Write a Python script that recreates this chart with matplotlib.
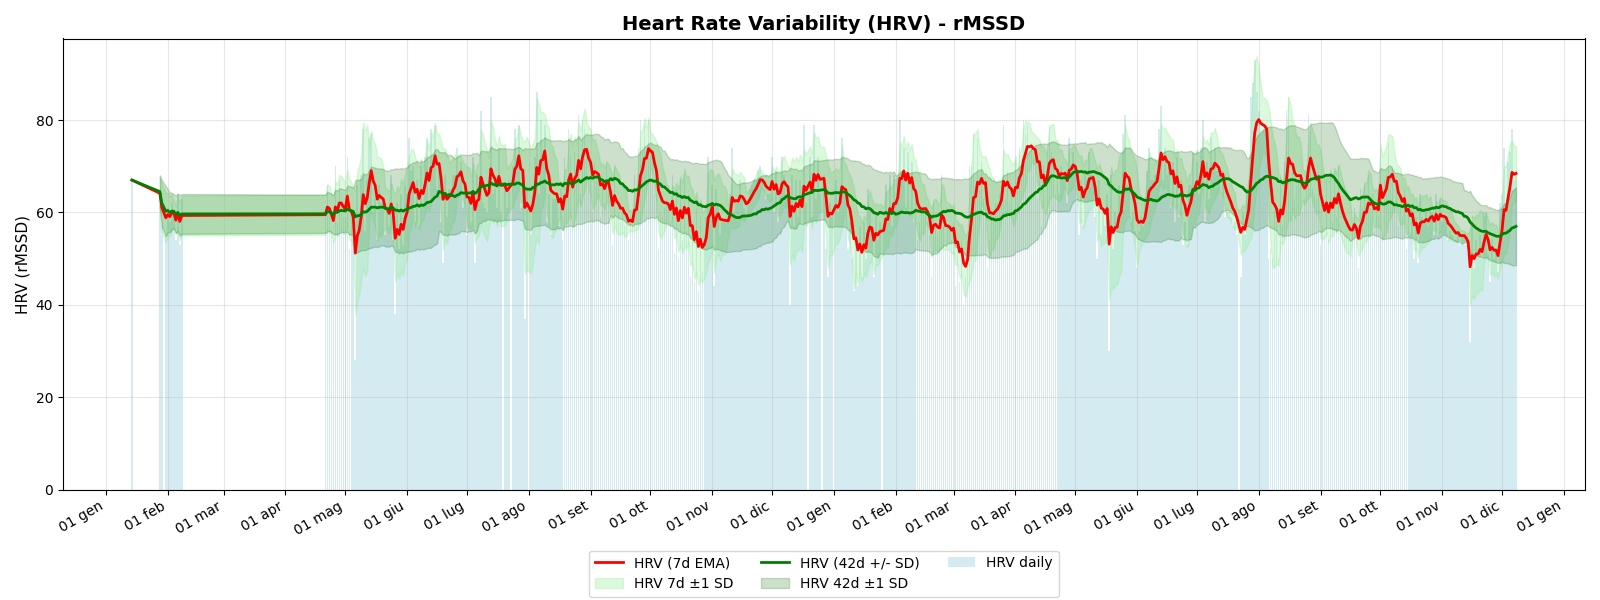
import pandas as pd
import matplotlib
matplotlib.use("Agg")
import matplotlib.pyplot as plt
import matplotlib.dates as mdates
from matplotlib.ticker import FuncFormatter

# Daily HRV (rMSSD) readings, one list per month (index 0 = day 1); None = no reading
hrv_2023_01 = [None] * 13 + [67] + [None] * 13 + [62, 57, None, 55]
hrv_2023_02 = [61, 58, 62, 60, 54, 64, 53, 63]
hrv_2023_04 = [None] * 20 + [60, 66, 60, 56, 54, 70, 58, 67, 62, 59]
hrv_2023_05 = [59, 72, 52, 59, 55, 28, 66, 60, 68, 78, 56, 67, 76, 77, 60, 63, 54, 66, 62, 62,
               55, 60, 57, 68, 54, 38, 62, 52, 64, 53, 66]
hrv_2023_06 = [64, 76, 69, 70, 58, 67, 57, 70, 62, 72, 76, 62, 78, 71, 79, 65, 71, 58, 49, 68,
               59, 65, 65, 68, 68, 74, 69, 71, 61, 64]
hrv_2023_07 = [55, 63, 58, 72, 49, 68, 64, 82, 62, 61, 60, 66, 85, 64, 65, 61, 74, 60, None, 66,
               61, 67, None, 70, 78, 72, 79, 61, 68, 37, 65]
hrv_2023_08 = [None, 55, 66, 72, 86, 64, 80, 72, 79, 58, 64, 55, 63, 63, 64, 57, 65, 54, 72, 63,
               78, 72, 57, 73, 70, 81, 64, 80, 78, 74, 66]
hrv_2023_09 = [68, 60, 71, 68, 67, 59, 67, 62, 71, 66, 58, 53, 70, 59, 60, 58, 61, 57, 58, 54,
               59, 57, 68, 61, 74, 80, 73, 79, 72, 80]
hrv_2023_10 = [72, 72, 64, 64, 52, 60, 59, 61, 62, 61, 57, 68, 51, 65, 50, 67, 54, 68, 56, 64,
               46, 57, 45, 61, 43, 59, 47, 55, 59, 72, 62]
hrv_2023_11 = [66, 44, 65, 62, 55, 58, 58, 58, 58, 64, 74, 60, 63, 62, 67, 63, 61, 59, 63, 65,
               66, 67, 67, 69, 70, 67, 65, 63, 64, 64]
hrv_2023_12 = [72, 60, 69, 58, 65, 72, 68, 64, 64, 40, 68, 57, 67, 59, 67, 57, 79, 62, None, 72,
               59, 79, 63, 72, 64, None, 68, 52, 46, 62, 59]
hrv_2024_01 = [None, 67, 60, 65, 76, 64, 64, 52, 58, 50, 43, 55, 44, 57, 46, 58, 50, 65, 61, 56,
               46, 60, 54, 58, None, 57, 66, 58, 68, 57, 68]
hrv_2024_02 = [62, 67, 80, 67, 74, 61, 73, 60, 71, 58, 63, 54, 58, 60, 61, 61, 58, 55, 46, 62,
               58, 55, 56, 68, 57, 52, 57, 56, 54]
hrv_2024_03 = [58, 44, 54, 45, 54, 40, 46, 54, 70, 70, 77, 64, 76, 65, 71, 63, 67, 48, 54, 60,
               59, 62, 62, 64, 66, 79, 63, 69, 62, 64, 59]
hrv_2024_04 = [71, 65, 74, 71, 80, 77, 79, 74, 75, 72, 73, 63, 71, 57, 70, 60, 73, 79, 73, 72,
               64, 68, 64, 70, 68, 69, 62, 76, 70, 73]
hrv_2024_05 = [69, 63, 55, 67, 57, 69, 67, 73, 68, 68, 59, 50, 67, 55, 60, 57, 64, 30, 68, 52,
               60, 57, 66, 63, 77, 81, 66, 66, 58, 60, 56]
hrv_2024_06 = [48, 56, 59, 57, 62, 69, 74, 67, 67, 68, 68, 78, 83, 67, 74, 68, 70, 61, 71, 58,
               72, 59, 67, 53, 58, 53, 66, 66, 73, 66]
hrv_2024_07 = [71, 64, 74, 80, 58, 71, 63, 76, 70, 74, 69, 68, 63, 69, 59, 60, 60, 59, 57, 58,
               55, None, 46, 60, 55, 65, 67, 85, 88, 93, 86]
hrv_2024_08 = [82, 77, 78, 78, 76, 50, 52, 50, 60, 58, 50, 68, 57, 71, 82, 85, 67, 70, 63, 66,
               68, 68, 60, 63, 68, 81, 78, 65, 64, 63, 69]
hrv_2024_09 = [53, 57, 55, 67, 54, 68, 58, 69, 59, 70, 56, 55, 55, 55, 54, 54, 56, 61, 54, 48,
               65, 61, 66, 60, 68, 61, 64, 56, 62, 59]
hrv_2024_10 = [82, 55, 67, 68, 75, 68, 70, 62, 67, 57, 61, 59, 65, 52, 62, 55, 61, 50, 59, 49,
               64, 59, 58, 60, 57, 61, 60, 55, 64, 55, 63]
hrv_2024_11 = [58, 59, 58, 54, 56, 55, 54, 54, 56, 53, 55, 55, 53, 51, 32, 58, 48, 54, 51, 55,
               50, 60, 60, 51, 45, 54, 50, 52, 47, 62]
hrv_2024_12 = [64, 74, 60, 71, 73, 78, 67, 69]

month_starts = ["2023-01-01", "2023-02-01", "2023-04-01", "2023-05-01", "2023-06-01",
                "2023-07-01", "2023-08-01", "2023-09-01", "2023-10-01", "2023-11-01",
                "2023-12-01", "2024-01-01", "2024-02-01", "2024-03-01", "2024-04-01",
                "2024-05-01", "2024-06-01", "2024-07-01", "2024-08-01", "2024-09-01",
                "2024-10-01", "2024-11-01", "2024-12-01"]
month_values = [hrv_2023_01, hrv_2023_02, hrv_2023_04, hrv_2023_05, hrv_2023_06, hrv_2023_07,
                hrv_2023_08, hrv_2023_09, hrv_2023_10, hrv_2023_11, hrv_2023_12, hrv_2024_01,
                hrv_2024_02, hrv_2024_03, hrv_2024_04, hrv_2024_05, hrv_2024_06, hrv_2024_07,
                hrv_2024_08, hrv_2024_09, hrv_2024_10, hrv_2024_11, hrv_2024_12]

mesi = ["gen", "feb", "mar", "apr", "mag", "giu", "lug", "ago", "set", "ott", "nov", "dic"]

dates, vals = [], []
for start, values in zip(month_starts, month_values):
    t0 = pd.Timestamp(start)
    for i, v in enumerate(values):
        if v is not None:
            dates.append(t0 + pd.Timedelta(days=i))
            vals.append(float(v))
hrv = pd.Series(vals, index=pd.DatetimeIndex(dates))

ema7 = hrv.ewm(span=7, adjust=True).mean()
std7 = hrv.rolling(7, min_periods=1).std()
mean42 = hrv.rolling(42, min_periods=1).mean()
std42 = hrv.rolling(42, min_periods=1).std()

fig, ax = plt.subplots(figsize=(16, 6), dpi=100)
fig.subplots_adjust(left=63 / 1600, right=1585 / 1600, top=1 - 38.5 / 600, bottom=1 - 489.5 / 600)

x = hrv.index
ax.bar(x, hrv.values, color="lightblue", alpha=0.5, label="HRV daily")
ax.plot(x, ema7, color="red", lw=2, label="HRV (7d EMA)")
ax.fill_between(x, ema7 - std7, ema7 + std7, color="lightgreen", alpha=0.3, label="HRV 7d ±1 SD")
ax.plot(x, mean42, color="green", lw=2, label="HRV (42d +/- SD)")
ax.fill_between(x, mean42 - std42, mean42 + std42, color="darkgreen", alpha=0.2,
                label="HRV 42d ±1 SD")

ref_day = mdates.date2num(pd.Timestamp("2023-01-01"))
ax.set_xlim(ref_day - 21.56, ref_day + 741.6)
ax.set_ylim(0, 97.65)
ax.set_title("Heart Rate Variability (HRV) - rMSSD", fontsize=14, fontweight="bold")
ax.set_ylabel("HRV (rMSSD)", fontsize=11)
ax.grid(True, alpha=0.3)

ax.xaxis.set_major_locator(mdates.MonthLocator())


def fmt(val, pos):
    d = mdates.num2date(val)
    return f"{d.day:02d} {mesi[d.month - 1]}"


ax.xaxis.set_major_formatter(FuncFormatter(fmt))
plt.setp(ax.get_xticklabels(), rotation=30, ha="right")

ax.legend(loc="upper center", bbox_to_anchor=(0.5, -0.12), ncol=3)

fig.savefig("out.png", dpi=100)
